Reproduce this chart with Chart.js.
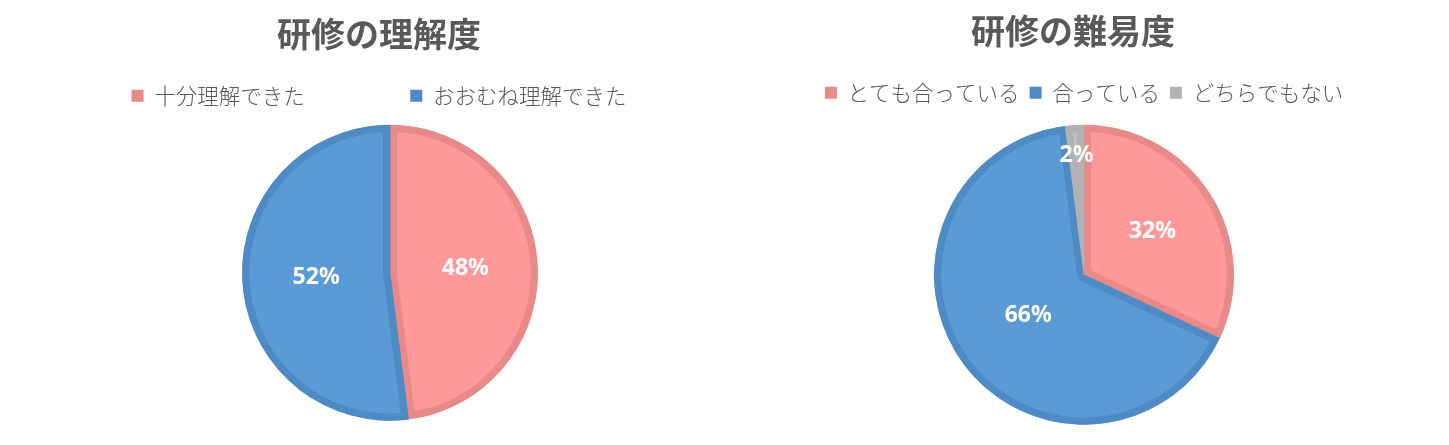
<!DOCTYPE html>
<html>
<head>
<meta charset="utf-8">
<script src="https://cdn.jsdelivr.net/npm/chart.js@4.4.1/dist/chart.umd.min.js"></script>
<style>
  html, body { margin: 0; padding: 0; background: #fff; }
  #wrap { position: relative; width: 1449px; height: 445px; overflow: hidden; }
  canvas { position: absolute; top: 0; }
</style>
</head>
<body>
<div id="wrap">
  <canvas id="understandChart" width="758" height="445" style="left:0px"></canvas>
  <canvas id="difficultyChart" width="746" height="445" style="left:700px"></canvas>
</div>
<script>
// chart 1: 研修の理解度
const understandTitle = '研修の理解度';
const understandLabels = ['十分理解できた', 'おおむね理解できた'];
const understandValues = [48, 52];

// chart 2: 研修の難易度
const difficultyTitle = '研修の難易度';
const difficultyLabels = ['とても合っている', '合っている', 'どちらでもない'];
const difficultyValues = [32, 66, 2];

// colours (fill / edge)
const pinkFill = '#FF9999', pinkEdge = '#E8898A';
const blueFill = '#5B9BD5', blueEdge = '#4E8AC4';
const greyFill = '#BFBFBF', greyEdge = '#B2B2B2';

const textGrey = '#595959';
const jpFont = '"Noto Sans CJK JP", "Noto Sans", sans-serif';

// where the % text sits along each slice (fraction of radius)
const understandLabelPos = [0.51, 0.5];
const difficultyLabelPos = [0.54, 0.46, 0.8];

const percentLabels = {
    id: 'percentLabels',
    afterDatasetsDraw(chart, args, opts) {
        const ctx = chart.ctx;
        const ds = chart.data.datasets[0];
        const total = ds.data.reduce((a, b) => a + b, 0);
        ctx.save();
        ctx.font = 'bold 23px "Noto Sans", "Open Sans", sans-serif';
        ctx.fillStyle = '#ffffff';
        ctx.textAlign = 'center';
        ctx.textBaseline = 'middle';
        chart.getDatasetMeta(0).data.forEach((arc, i) => {
            const p = arc.getProps(['x', 'y', 'startAngle', 'endAngle', 'outerRadius'], true);
            const mid = (p.startAngle + p.endAngle) / 2;
            const r = p.outerRadius * (opts.pos[i] || 0.5);
            const txt = Math.round(ds.data[i] / total * 100) + '%';
            ctx.fillText(txt, p.x + Math.cos(mid) * r, p.y + Math.sin(mid) * r);
        });
        ctx.restore();
    }
};

function makePie(canvasId, cfg) {
    const ctx = document.getElementById(canvasId).getContext('2d');
    return new Chart(ctx, {
        type: 'pie',
        data: {
            labels: cfg.labels,
            datasets: [{
                data: cfg.values,
                backgroundColor: cfg.fills,
                borderColor: cfg.edges,
                borderWidth: 7,
                borderAlign: 'inner',
                hoverOffset: 0
            }]
        },
        plugins: [percentLabels],
        options: {
            responsive: false,
            animation: false,
            events: [],
            radius: cfg.radius,
            layout: { padding: { bottom: cfg.bottomPad } },
            plugins: {
                tooltip: { enabled: false },
                title: {
                    display: true,
                    text: cfg.title,
                    color: textGrey,
                    font: { family: jpFont, size: 34, weight: 'bold', lineHeight: 1.2 },
                    padding: { top: cfg.titleTop, bottom: 20.6 }
                },
                // empty box on the left, nudges the pie to the right of the title
                subtitle: {
                    display: true,
                    position: 'left',
                    text: '',
                    font: { size: 10, lineHeight: 1 },
                    padding: { top: 6, bottom: 6 }
                },
                legend: {
                    display: true,
                    position: 'top',
                    fullSize: cfg.legendFull,
                    labels: {
                        color: textGrey,
                        font: { family: jpFont, size: 21.5, weight: 300 },
                        boxWidth: 12,
                        boxHeight: 12,
                        padding: 10,
                        generateLabels(chart) {
                            return chart.data.labels.map((l, i) => ({
                                text: l + (cfg.gap[i] || ''),
                                fillStyle: cfg.edges[i],
                                strokeStyle: cfg.edges[i],
                                lineWidth: 0,
                                fontColor: textGrey,
                                index: i
                            }));
                        }
                    }
                },
                percentLabels: { pos: cfg.labelPos }
            }
        }
    });
}

document.addEventListener('DOMContentLoaded', () => {
    makePie('understandChart', {
        title: understandTitle,
        labels: understandLabels,
        values: understandValues,
        fills: [pinkFill, blueFill],
        edges: [pinkEdge, blueEdge],
        labelPos: understandLabelPos,
        gap: ['\u3000\u3000\u3000\u3000  ', ''],
        radius: 148,
        titleTop: 13.6,
        bottomPad: 16,
        legendFull: true
    });

    makePie('difficultyChart', {
        title: difficultyTitle,
        labels: difficultyLabels,
        values: difficultyValues,
        fills: [pinkFill, blueFill, greyFill],
        edges: [pinkEdge, blueEdge, greyEdge],
        labelPos: difficultyLabelPos,
        gap: ['', '', ''],
        radius: 150,
        titleTop: 10.6,
        bottomPad: 9,
        legendFull: false
    });
});
</script>
</body>
</html>
